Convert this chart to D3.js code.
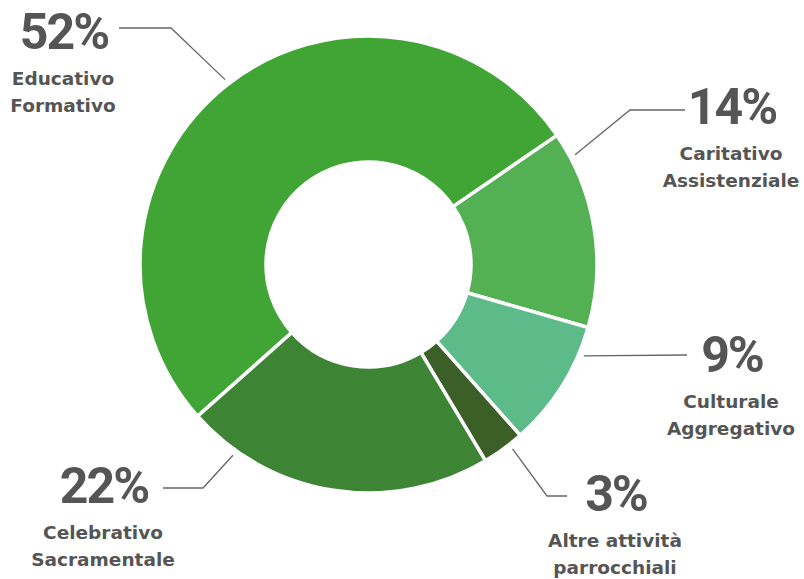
<!DOCTYPE html>
<html>
<head>
<meta charset="utf-8">
<script src="https://cdn.jsdelivr.net/npm/d3@7"></script>
<style>
  html, body { margin: 0; padding: 0; background: #fff; }
  svg { display: block; }
</style>
</head>
<body>
<svg id="chart"></svg>
<script>
// data
var categories = ['Educativo Formativo', 'Caritativo Assistenziale', 'Culturale Aggregativo', 'Altre attività parrocchiali', 'Celebrativo Sacramentale']
var labelLines = [['Educativo', 'Formativo'], ['Caritativo', 'Assistenziale'], ['Culturale', 'Aggregativo'], ['Altre attività', 'parrocchiali'], ['Celebrativo', 'Sacramentale']]
var values = [52, 14, 9, 3, 22]
var colors = ['#41a536', '#53b053', '#5dba89', '#3c5f27', '#3d8535']

// label layout (leader angle in degrees, elbow / end of leader, text centre)
var labelLayout = [
    { angle: -37.8, elbow: [171, 28], end: [119, 28], tx: 63, ty: 49 },
    { angle: 62, elbow: [630, 110], end: [685, 110], tx: 731, ty: 124 },
    { angle: 113, elbow: null, end: [687, 355], tx: 731, ty: 372 },
    { angle: 142, elbow: [547, 496], end: [567, 496], tx: 615, ty: 511 },
    { angle: 215.4, elbow: [203, 488], end: [163, 488], tx: 103, ty: 503 }
]

var width = 804, height = 579
var cx = 368.5, cy = 264.5
var outerR = 228.5, innerR = 102.5
var startDeg = -131.6

var svg = d3.select('#chart')
    .attr('width', width)
    .attr('height', height)

var pie = d3.pie()
    .sort(null)
    .value(function(d) { return d })
    .startAngle(startDeg * Math.PI / 180)
    .endAngle((startDeg + 360) * Math.PI / 180)

var arc = d3.arc()
    .innerRadius(innerR)
    .outerRadius(outerR)

var g = svg.append('g')
    .attr('transform', 'translate(' + cx + ',' + cy + ')')

g.selectAll('path')
    .data(pie(values))
    .enter()
    .append('path')
    .attr('d', arc)
    .attr('fill', function(d, i) { return colors[i] })
    .attr('stroke', '#fff')
    .attr('stroke-width', 3.5)
    .attr('stroke-linejoin', 'miter')

// leader lines
var leaderR = 234
svg.selectAll('polyline.leader')
    .data(labelLayout)
    .enter()
    .append('polyline')
    .attr('class', 'leader')
    .attr('points', function(d) {
        var a = d.angle * Math.PI / 180
        var pts = [[cx + leaderR * Math.sin(a), cy - leaderR * Math.cos(a)]]
        if (d.elbow) pts.push(d.elbow)
        pts.push(d.end)
        return pts.map(function(p) { return p.join(',') }).join(' ')
    })
    .attr('fill', 'none')
    .attr('stroke', '#666')
    .attr('stroke-width', 1.3)

// labels
var labels = svg.selectAll('g.label')
    .data(labelLayout)
    .enter()
    .append('g')
    .attr('class', 'label')
    .attr('transform', function(d) { return 'translate(' + d.tx + ',' + d.ty + ')' })

labels.append('text')
    .attr('text-anchor', 'middle')
    .attr('x', 1)
    .attr('font-family', 'Roboto, sans-serif')
    .attr('font-weight', 700)
    .attr('font-size', 50)
    .attr('letter-spacing', -2)
    .attr('fill', '#555')
    .text(function(d, i) { return values[i] + '%' })

labels.each(function(d, i) {
    d3.select(this).selectAll('text.name')
        .data(labelLines[i])
        .enter()
        .append('text')
        .attr('class', 'name')
        .attr('text-anchor', 'middle')
        .attr('y', function(t, j) { return 35.5 + j * 27 })
        .attr('font-family', '"DejaVu Sans", sans-serif')
        .attr('font-weight', 700)
        .attr('font-size', 18.5)
        .attr('fill', '#555')
        .text(function(t) { return t })
})
</script>
</body>
</html>
